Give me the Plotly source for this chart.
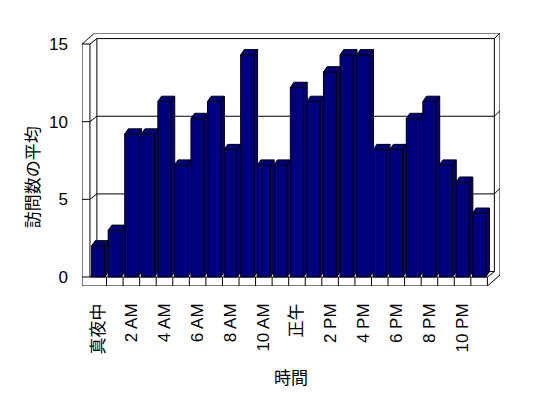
import plotly.graph_objects as go

# ---- data ----
hours = list(range(24))
visits = [2.0, 3.0, 9.2, 9.2, 11.3, 7.2, 10.2, 11.3, 8.2, 14.3, 7.2, 7.2,
          12.2, 11.3, 13.2, 14.3, 14.3, 8.2, 8.2, 10.2, 11.3, 7.2, 6.1, 4.1]
tick_pos = list(range(0, 24, 2))
tick_text = ["真夜中", "2 AM", "4 AM", "6 AM", "8 AM", "10 AM",
             "正午", "2 PM", "4 PM", "6 PM", "8 PM", "10 PM"]
y_ticks = [0, 5, 10, 15]
x_title = "時間"
y_title = "訪問数の平均"

# ---- style / pseudo-3D geometry (in axis units) ----
NAVY = "#000080"
FONT = "Liberation Sans, Arial, Noto Sans CJK JP, sans-serif"
BAR_W = 0.8
BAR_DX, BAR_DY = 0.22, 0.34
DX, DY = 0.42, 0.35        # inner depth of walls / floor
ODX, ODY = 0.76, 0.71      # outer depth of the box
WALL_T = 0.48
FLOOR_T = 0.58
X0, X1 = -0.5, len(hours) - 0.5
YMAX = y_ticks[-1]

xl, xr = X0 - WALL_T, X1 + ODX
yb, yt = -FLOOR_T, YMAX + ODY

shapes = []


def seg(x0, y0, x1, y1):
    shapes.append(dict(type="line", xref="x", yref="y", x0=x0, y0=y0, x1=x1, y1=y1,
                       line=dict(color="black", width=1), layer="below"))


# left wall
seg(xl, yb, xl, YMAX)
seg(X0, 0, X0, YMAX)
seg(X0 + DX, DY, X0 + DX, YMAX + DY)
seg(xl, YMAX, xl + ODX, yt)
# outer top / right edges
seg(xl + ODX, yt, xr, yt)
seg(xr, yt, xr, yb + ODY)
seg(X1 + DX, YMAX + DY, X1 + DX, DY)
# gridlines on back wall + ticks on walls
for v in y_ticks:
    seg(xl, v, X0, v)
    seg(X0, v, X0 + DX, v + DY)
    seg(X0 + DX, v + DY, X1 + DX, v + DY)
    if v > 0:
        seg(X1 + DX, v + DY, xr, v + ODY)
# floor
seg(X0, 0, X1, 0)
seg(xl, yb, X1, yb)
seg(X1, yb, X1, 0)
seg(X1, 0, X1 + DX, DY)
seg(X1, yb, xr, yb + ODY)
for k in range(1, len(hours)):
    seg(k - 0.5, yb, k - 0.5, 0)

fig = go.Figure()
fig.add_trace(go.Bar(x=hours, y=visits, width=BAR_W, marker=dict(color=NAVY, line=dict(color="black", width=1)),
                     hoverinfo="x+y"))

side_x, side_y, top_x, top_y = [], [], [], []
for h, v in zip(hours, visits):
    l, r = h - BAR_W / 2, h + BAR_W / 2
    side_x += [r, r, r + BAR_DX, r + BAR_DX, r, None]
    side_y += [0, v, v + BAR_DY, BAR_DY, 0, None]
    top_x += [l, r, r + BAR_DX, l + BAR_DX, l, None]
    top_y += [v, v, v + BAR_DY, v + BAR_DY, v, None]

for xs, ys in ((side_x, side_y), (top_x, top_y)):
    fig.add_trace(go.Scatter(x=xs, y=ys, mode="lines", fill="toself", fillcolor=NAVY,
                             line=dict(color="black", width=1), hoverinfo="skip"))

fig.update_layout(
    width=548, height=398,
    margin=dict(l=82, r=48, t=33, b=112, autoexpand=False),
    paper_bgcolor="white", plot_bgcolor="white",
    showlegend=False,
    font=dict(family=FONT, size=17, color="black"),
    shapes=shapes,
    bargap=0.2,
    annotations=[dict(text=y_title, textangle=-90, xref="paper", yref="paper",
                      x=0, y=0.43, xshift=-49, xanchor="center", yanchor="middle",
                      showarrow=False, font=dict(size=17))],
)
fig.update_xaxes(range=[xl, xr], tickmode="array", tickvals=tick_pos, ticktext=tick_text,
                 tickangle=-90, showgrid=False, zeroline=False, showline=False, ticks="",
                 ticklabelstandoff=13, automargin=False,
                 title=dict(text=x_title, font=dict(size=17), standoff=18))
fig.update_yaxes(range=[yb, yt], tickmode="array", tickvals=y_ticks,
                 showgrid=False, zeroline=False, showline=False, ticks="",
                 ticklabelstandoff=13, automargin=False, tickfont=dict(size=17))

fig.write_html("out.html", config={"displayModeBar": False},
               post_script="document.body.style.margin='0';")
